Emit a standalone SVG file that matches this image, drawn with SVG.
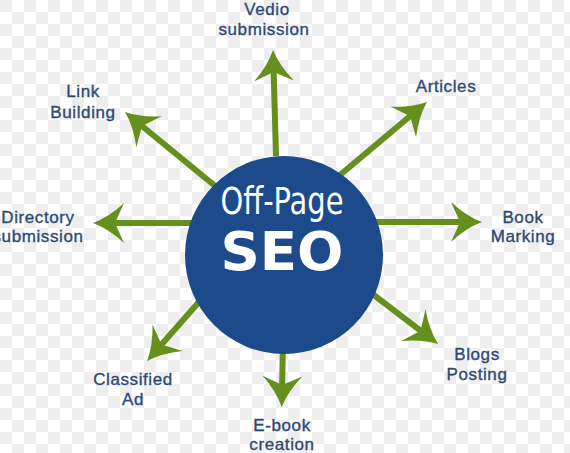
<svg xmlns="http://www.w3.org/2000/svg" width="570" height="453" viewBox="0 0 570 453">
  <defs>
    <pattern id="checker" width="24" height="24" patternUnits="userSpaceOnUse">
      <rect width="24" height="24" fill="#ffffff"/>
      <rect width="12" height="12" fill="#eeeeee"/>
      <rect x="12" y="12" width="12" height="12" fill="#eeeeee"/>
    </pattern>
    <marker id="head" markerUnits="userSpaceOnUse" markerWidth="40" markerHeight="44" refX="0" refY="0" viewBox="-20 -22 40 44" orient="auto" overflow="visible">
      <path d="M16,0 Q0,-6 -15,-20 L-6,0 L-15,20 Q0,6 16,0 Z" fill="#66901e"/>
    </marker>
    <style>
      .conn { stroke: #66901e; stroke-width: 6; fill: none; marker-end: url(#head); }
      .label { font-family: "Liberation Sans", Arial, sans-serif; font-size: 17px; fill: #2d4a75; stroke: #2d4a75; stroke-width: 0.35px; text-anchor: middle; letter-spacing: 0.6px; }
    </style>
  </defs>
  <rect width="570" height="453" fill="url(#checker)"/>

  <g id="connectors">
    <line class="conn" x1="276" y1="156" x2="273.5" y2="66"/>
    <line class="conn" x1="340" y1="175" x2="414.7" y2="112.3"/>
    <line class="conn" x1="220" y1="190" x2="137.4" y2="122.2"/>
    <line class="conn" x1="200" y1="223" x2="109" y2="223"/>
    <line class="conn" x1="370" y1="222" x2="466" y2="222"/>
    <line class="conn" x1="220" y1="278" x2="157.6" y2="349"/>
    <line class="conn" x1="349" y1="276" x2="425.3" y2="334.3"/>
    <line class="conn" x1="283" y1="340" x2="282" y2="391"/>
  </g>

  <g id="center">
    <circle cx="284" cy="255" r="99" fill="#1d4a8b"/>
    <text x="282" y="214" font-family="'DejaVu Sans Condensed', 'Liberation Sans Narrow', sans-serif" font-stretch="condensed" font-size="37" fill="#ffffff" text-anchor="middle" textLength="123" lengthAdjust="spacingAndGlyphs">Off-Page</text>
    <text x="282" y="270" font-family="'DejaVu Sans', sans-serif" font-weight="bold" font-size="54" fill="#ffffff" text-anchor="middle" textLength="123" lengthAdjust="spacingAndGlyphs">SEO</text>
  </g>

  <g id="vedio">
    <text class="label" x="267" y="15">Vedio</text>
    <text class="label" x="264" y="35">submission</text>
  </g>
  <g id="articles">
    <text class="label" x="446" y="92">Articles</text>
  </g>
  <g id="link-building">
    <text class="label" x="83" y="97">Link</text>
    <text class="label" x="83" y="118">Building</text>
  </g>
  <g id="directory">
    <text class="label" x="38" y="223">Directory</text>
    <text class="label" x="38" y="242">submission</text>
  </g>
  <g id="book-marking">
    <text class="label" x="523" y="223">Book</text>
    <text class="label" x="523" y="242">Marking</text>
  </g>
  <g id="classified">
    <text class="label" x="133" y="385">Classified</text>
    <text class="label" x="133" y="405">Ad</text>
  </g>
  <g id="ebook">
    <text class="label" x="282" y="431">E-book</text>
    <text class="label" x="282" y="450">creation</text>
  </g>
  <g id="blogs">
    <text class="label" x="477" y="360">Blogs</text>
    <text class="label" x="477" y="380">Posting</text>
  </g>
</svg>
